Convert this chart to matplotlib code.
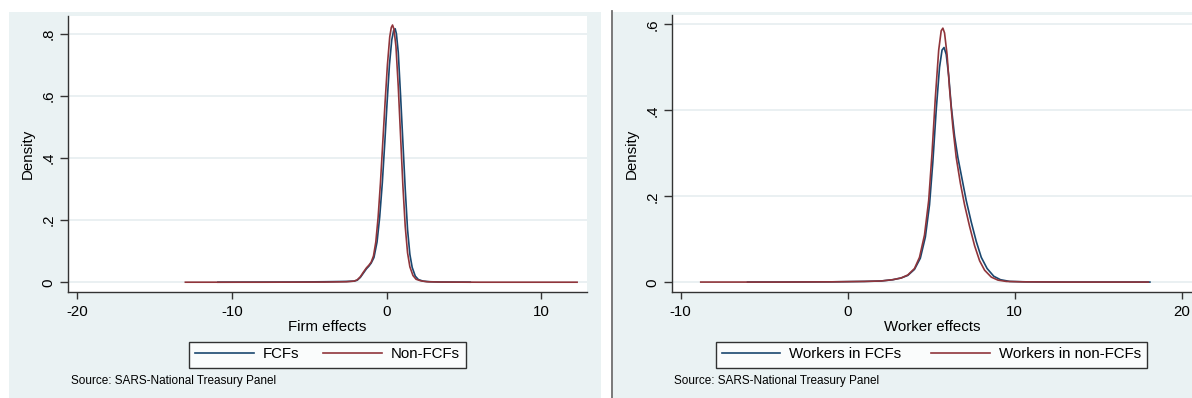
import matplotlib
matplotlib.use("Agg")
import matplotlib.pyplot as plt
from matplotlib.patches import Rectangle
from matplotlib.lines import Line2D

plt.rcParams['font.family'] = ['Liberation Sans', 'DejaVu Sans']

# ---------------- data ----------------
# Left panel: firm effects
firm_x_nonfcf = [-13.0, -8.0, -4.0, -2.6, -2.1, -1.9, -1.7, -1.5, -1.3, -1.15, -1.0, -0.85,
                 -0.7, -0.55, -0.4, -0.25, -0.1, 0.05, 0.2, 0.3, 0.38, 0.47, 0.6, 0.75,
                 0.9, 1.05, 1.2, 1.35, 1.5, 1.7, 1.9, 2.2, 2.6, 3.5, 6.0, 12.3]
firm_y_nonfcf = [0.0005, 0.0005, 0.001, 0.002, 0.004, 0.008, 0.018, 0.033, 0.047, 0.055, 0.065, 0.085,
                 0.13, 0.21, 0.32, 0.45, 0.58, 0.70, 0.79, 0.82, 0.828, 0.815, 0.76, 0.63,
                 0.47, 0.31, 0.18, 0.095, 0.05, 0.022, 0.010, 0.005, 0.002, 0.001, 0.0005, 0.0005]
firm_x_fcf = [-10.9, -6.0, -4.0, -2.6, -2.1, -1.9, -1.7, -1.5, -1.3, -1.15, -1.0, -0.82,
              -0.62, -0.45, -0.28, -0.12, 0.03, 0.18, 0.33, 0.45, 0.55, 0.63, 0.75, 0.9,
              1.05, 1.2, 1.35, 1.5, 1.65, 1.85, 2.05, 2.35, 2.8, 3.5, 5.4]
firm_y_fcf = [0.0005, 0.001, 0.002, 0.003, 0.004, 0.007, 0.016, 0.030, 0.044, 0.052, 0.062, 0.08,
              0.13, 0.21, 0.32, 0.45, 0.58, 0.70, 0.78, 0.81, 0.816, 0.80, 0.74, 0.60,
              0.45, 0.30, 0.17, 0.09, 0.048, 0.02, 0.009, 0.004, 0.002, 0.001, 0.0005]

# Right panel: worker effects
work_x_nonfcf = [-8.8, -4.0, -1.0, 1.0, 2.0, 2.7, 3.2, 3.6, 4.0, 4.3, 4.6, 4.85, 5.05, 5.25,
                 5.45, 5.6, 5.7, 5.8, 5.95, 6.1, 6.3, 6.5, 6.75, 7.0, 7.3, 7.6, 7.9, 8.2,
                 8.6, 9.0, 9.5, 10.5, 13.0, 18.0]
work_y_nonfcf = [0.0005, 0.0005, 0.001, 0.002, 0.003, 0.006, 0.010, 0.017, 0.032, 0.058, 0.11, 0.19,
                 0.30, 0.43, 0.54, 0.585, 0.591, 0.58, 0.53, 0.45, 0.36, 0.29, 0.23, 0.18,
                 0.13, 0.085, 0.05, 0.028, 0.012, 0.005, 0.002, 0.001, 0.0005, 0.0005]
work_x_fcf = [-6.0, -4.0, -1.0, 1.0, 2.0, 2.7, 3.2, 3.6, 4.0, 4.35, 4.65, 4.9, 5.1, 5.3,
              5.5, 5.65, 5.77, 5.9, 6.05, 6.2, 6.4, 6.6, 6.85, 7.1, 7.4, 7.7, 8.0, 8.35,
              8.75, 9.15, 9.7, 10.7, 13.0, 18.1]
work_y_fcf = [0.0005, 0.0005, 0.001, 0.002, 0.003, 0.006, 0.010, 0.016, 0.030, 0.056, 0.105, 0.18,
              0.28, 0.40, 0.50, 0.54, 0.546, 0.53, 0.48, 0.41, 0.34, 0.29, 0.24, 0.19,
              0.14, 0.095, 0.058, 0.032, 0.014, 0.006, 0.002, 0.001, 0.0005, 0.0005]

left_labels = ["FCFs", "Non-FCFs"]
right_labels = ["Workers in FCFs", "Workers in non-FCFs"]
left_xlabel = "Firm effects"
right_xlabel = "Worker effects"
ylabel = "Density"
source = "Source: SARS-National Treasury Panel"

left_xticks = [-20, -10, 0, 10]
left_yticks = [0, 0.2, 0.4, 0.6, 0.8]
left_yticklabels = ["0", ".2", ".4", ".6", ".8"]
right_xticks = [-10, 0, 10, 20]
right_yticks = [0, 0.2, 0.4, 0.6]
right_yticklabels = ["0", ".2", ".4", ".6"]

# ---------------- styling ----------------
W, H = 1192, 398
BG = "#EAF2F3"
GRID = "#E6EEF0"
BLUE = "#1A476F"
RED = "#90353B"
FS = 10.8

fig = plt.figure(figsize=(W / 100, H / 100), dpi=100)
fig.patch.set_facecolor("white")

def px_rect(x0, y0, x1, y1, **kw):
    fig.patches.append(Rectangle((x0 / W, 1 - y1 / H), (x1 - x0) / W, (y1 - y0) / H,
                                 transform=fig.transFigure, figure=fig, **kw))

# panel backgrounds
px_rect(9, 12, 601, 398, facecolor=BG, edgecolor="none", zorder=-10)
px_rect(613, 12, 1192, 398, facecolor=BG, edgecolor="none", zorder=-10)
fig.add_artist(Line2D([612 / W, 612 / W], [0, 1 - 11 / H], transform=fig.transFigure,
                      color="#6E6E6E", lw=1.3, zorder=-5))

def make_ax(x0, y0, x1, y1):
    ax = fig.add_axes([x0 / W, 1 - y1 / H, (x1 - x0) / W, (y1 - y0) / H])
    ax.set_zorder(2)
    return ax

def style(ax, xlim, ylim, xticks, yticks, yticklabels, xlabel):
    ax.set_facecolor("white")
    ax.set_xlim(*xlim)
    ax.set_ylim(*ylim)
    for s in ("top", "right"):
        ax.spines[s].set_visible(False)
    for s in ("left", "bottom"):
        ax.spines[s].set_color("#333333")
        ax.spines[s].set_linewidth(1.0)
    ax.set_xticks(xticks)
    ax.set_xticklabels([str(t) for t in xticks])
    ax.set_yticks(yticks)
    ax.set_yticklabels(yticklabels, rotation=90, va="center")
    ax.tick_params(axis="x", length=5, width=1, color="#333333", pad=4, labelsize=FS)
    ax.tick_params(axis="y", length=6, width=1, color="#333333", pad=3, labelsize=FS)
    ax.grid(axis="y", color=GRID, lw=1.2)
    ax.set_axisbelow(True)
    ax.set_xlabel(xlabel, fontsize=FS, labelpad=1)
    ax.set_ylabel(ylabel, fontsize=FS, labelpad=5)

# Left panel
axL = make_ax(67.7, 16, 587, 292)
style(axL, (-20.6, 12.94), (-0.031, 0.857), left_xticks, left_yticks, left_yticklabels, left_xlabel)
axL.plot(firm_x_fcf, firm_y_fcf, color=BLUE, lw=1.2, label=left_labels[0])
axL.plot(firm_x_nonfcf, firm_y_nonfcf, color=RED, lw=1.2, label=left_labels[1])

# Right panel
axR = make_ax(671.7, 15, 1192, 292)
style(axR, (-10.54, 20.62), (-0.0226, 0.6216), right_xticks, right_yticks, right_yticklabels, right_xlabel)
axR.plot(work_x_fcf, work_y_fcf, color=BLUE, lw=1.2, label=right_labels[0])
axR.plot(work_x_nonfcf, work_y_nonfcf, color=RED, lw=1.2, label=right_labels[1])

def legend(ax, cx, cy, colsp):
    leg = ax.legend(loc="center", bbox_to_anchor=(cx / W, 1 - cy / H), bbox_transform=fig.transFigure,
                    ncol=2, fontsize=FS, frameon=True, fancybox=False, edgecolor="black",
                    handlelength=3.9, handletextpad=0.6, columnspacing=colsp, borderpad=0.4)
    leg.get_frame().set_linewidth(1.0)
    leg.get_frame().set_facecolor("white")

legend(axL, 327.4, 354.5, 1.6)
legend(axR, 931.4, 354.5, 2.0)

fig.text(70.8 / W, 1 - 381 / H, source, fontsize=8.5, va="center", ha="left")
fig.text(674 / W, 1 - 381 / H, source, fontsize=8.5, va="center", ha="left")

fig.savefig("out.png", dpi=100, facecolor="white")
